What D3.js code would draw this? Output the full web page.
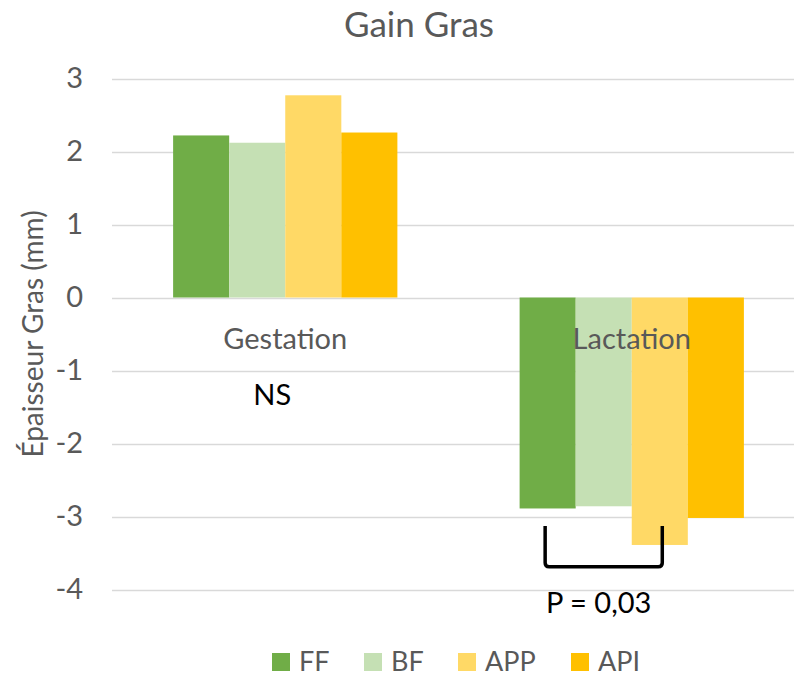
<!DOCTYPE html>
<html>
<head>
<meta charset="utf-8">
<script src="https://cdn.jsdelivr.net/npm/d3@7"></script>
<style>
  html, body { margin: 0; padding: 0; background: #fff; }
  svg { display: block; }
  text { font-family: Lato, "Open Sans", sans-serif; }
</style>
</head>
<body>
<div id="chart"></div>
<script>
// data
const periods = ['Gestation', 'Lactation'];
const seriesNames = ['FF', 'BF', 'APP', 'API'];
const seriesColors = ['#70AD47', '#C5E0B4', '#FFD966', '#FFC000'];
const gestationValues = [2.22, 2.12, 2.77, 2.26];
const lactationValues = [-2.89, -2.86, -3.39, -3.02];
const yTicks = [3, 2, 1, 0, -1, -2, -3, -4];

const width = 794, height = 676;
const textColor = '#595959';

const rows = periods.map((p, i) => ({
    period: p,
    values: i === 0 ? gestationValues : lactationValues
}));

const svg = d3.select('#chart').append('svg')
    .attr('width', width)
    .attr('height', height);

// plot area runs past the right edge, like the cropped original
const x0 = d3.scaleBand().domain(periods).range([112, 805]);
const x1 = d3.scaleBand().domain(seriesNames)
    .range([0, x0.bandwidth()]).paddingInner(0).paddingOuter(1.09);
const y = d3.scaleLinear().domain([-4, 3]).range([589.5, 78.5]);

// gridlines
svg.append('g')
    .selectAll('line')
    .data(yTicks)
    .join('line')
    .attr('x1', 112).attr('x2', width)
    .attr('y1', d => Math.round(y(d)) + 0.5)
    .attr('y2', d => Math.round(y(d)) + 0.5)
    .attr('stroke', '#D9D9D9').attr('stroke-width', 1.5);

// y axis labels (plain hyphen for negatives, as in the original)
const yAxis = svg.append('g')
    .attr('transform', 'translate(83,0)')
    .call(d3.axisLeft(y).tickValues(yTicks).tickSize(0).tickPadding(0)
        .tickFormat(d => String(d)));
yAxis.select('.domain').remove();
yAxis.selectAll('text')
    .attr('fill', textColor)
    .style('font-size', '29px')
    .style('font-family', 'Lato, sans-serif');

// bars
const groups = svg.append('g')
    .selectAll('g')
    .data(rows)
    .join('g')
    .attr('transform', d => `translate(${x0(d.period)},0)`);

groups.selectAll('rect')
    .data(d => d.values.map((v, i) => ({ name: seriesNames[i], value: v, color: seriesColors[i] })))
    .join('rect')
    .attr('x', d => x1(d.name))
    .attr('width', x1.bandwidth())
    .attr('y', d => y(Math.max(0, d.value)))
    .attr('height', d => Math.abs(y(d.value) - y(0)))
    .attr('fill', d => d.color);

// category labels sit just under the zero line
svg.append('g')
    .selectAll('text')
    .data(periods)
    .join('text')
    .attr('x', d => x0(d) + x0.bandwidth() / 2)
    .attr('y', y(0) + 51)
    .attr('text-anchor', 'middle')
    .attr('fill', textColor)
    .style('font-size', '29px')
    .text(d => d);

// title
svg.append('text')
    .attr('x', 419).attr('y', 37)
    .attr('text-anchor', 'middle')
    .attr('fill', textColor)
    .style('font-size', '35px')
    .text('Gain Gras');

// y axis title
svg.append('text')
    .attr('transform', `translate(43,${334}) rotate(-90)`)
    .attr('text-anchor', 'middle')
    .attr('fill', textColor)
    .style('font-size', '28px')
    .text('Épaisseur Gras (mm)');

// significance notes
svg.append('text')
    .attr('x', x0('Gestation') + x0.bandwidth() / 2 - 13)
    .attr('y', 405)
    .attr('text-anchor', 'middle')
    .attr('fill', '#000')
    .style('font-size', '29px')
    .text('NS');

const bx1 = x0('Lactation') + x1('FF') + x1.bandwidth() / 2 - 2.5;
const bx2 = x0('Lactation') + x1('APP') + x1.bandwidth() / 2 + 2.5;
const by1 = y(-3.13), by2 = y(-3.69);
svg.append('path')
    .attr('d', `M${bx1},${by1} L${bx1},${by2 - 4} Q${bx1},${by2} ${bx1 + 4},${by2}
               L${bx2 - 4},${by2} Q${bx2},${by2} ${bx2},${by2 - 4} L${bx2},${by1}`)
    .attr('fill', 'none')
    .attr('stroke', '#000')
    .attr('stroke-width', 3.5);

svg.append('text')
    .attr('x', (bx1 + bx2) / 2 - 5)
    .attr('y', 613)
    .attr('text-anchor', 'middle')
    .attr('fill', '#000')
    .style('font-size', '29px')
    .text('P = 0,03');

// legend
const legendX = [272, 364, 458, 571];
const legend = svg.append('g')
    .selectAll('g')
    .data(seriesNames)
    .join('g')
    .attr('transform', (d, i) => `translate(${legendX[i]},653)`);
legend.append('rect')
    .attr('width', 18).attr('height', 18)
    .attr('fill', (d, i) => seriesColors[i]);
legend.append('text')
    .attr('x', 27).attr('y', 18)
    .attr('fill', textColor)
    .style('font-size', '27px')
    .text(d => d);
</script>
</body>
</html>
